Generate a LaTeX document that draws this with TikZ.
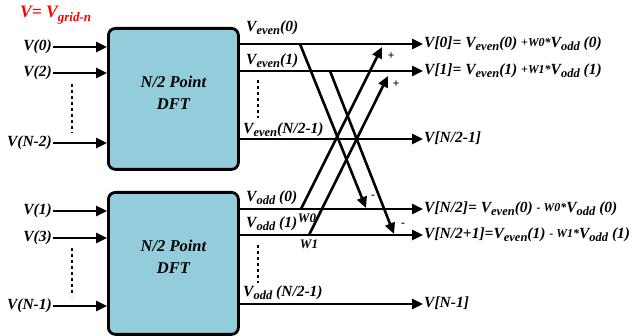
\documentclass[tikz,border=0pt]{standalone}
\usepackage{fontspec}
\setmainfont{Liberation Serif}
\usetikzlibrary{arrows.meta}
\definecolor{dftblue}{HTML}{93CDDC}
\newcommand\vsub[1]{\raisebox{-0.35ex}{\fontsize{12.5}{13}\selectfont #1}}
\newcommand\vsup[1]{\raisebox{0.25ex}{\fontsize{12}{13}\selectfont #1}}
\begin{document}
\begin{tikzpicture}[x=1pt,y=-1pt,
  font=\fontsize{15.5}{17}\selectfont\bfseries\itshape,
  box/.style={draw, line width=2.8pt, rounded corners=7pt, fill=dftblue, minimum width=130pt},
  arr/.style={line width=2.6pt, -{Triangle[length=11pt,width=10pt]}},
  dots/.style={line width=2.8pt, dash pattern=on 3pt off 3pt},
  lbl/.style={inner sep=1pt, text height=11pt, text depth=3pt},
  boxtext/.style={align=center, font=\fontsize{16.5}{22}\selectfont\bfseries\itshape},
  small/.style={font=\fontsize{12}{12}\selectfont\bfseries\itshape, inner sep=0pt}]
\useasboundingbox (0,0) rectangle (634,336);
% title
\node[anchor=base west, red, inner sep=0pt, font=\fontsize{17.5}{18}\selectfont\bfseries\itshape] (title) at (20,18) {V= V\raisebox{-0.45ex}{\fontsize{13}{13}\selectfont grid-n}};
% boxes
\node[box, minimum height=141pt, anchor=north west] (B1) at (107,27) {};
\node[box, minimum height=142pt, anchor=north west] (B2) at (107,191) {};
\node[boxtext] (t1) at ([yshift=6pt]B1.center) {N/2 Point\\DFT};
\node[boxtext] (t2) at ([yshift=7pt]B2.center) {N/2 Point\\DFT};
% inputs
\node[lbl, anchor=east] (i0) at (53,47) {V(0)};
\node[lbl, anchor=east] (i2) at (53,73) {V(2)};
\node[lbl, anchor=east] (iN2) at (53,143) {V(N-2)};
\node[lbl, anchor=east] (i1) at (53,211) {V(1)};
\node[lbl, anchor=east] (i3) at (53,238) {V(3)};
\node[lbl, anchor=east] (iN1) at (53,306) {V(N-1)};
\foreach \n/\b in {i0/B1,i2/B1,iN2/B1,i1/B2,i3/B2,iN1/B2}
  \draw[arr] (\n.east) -- (\b.west |- \n.east);
\coordinate (da1) at (72,84); \coordinate (da2) at (72,133);
\coordinate (db1) at (72,248); \coordinate (db2) at (72,296);
\draw[dots] (da1) -- (da2);
\draw[dots] (db1) -- (db2);
% outputs
\node[lbl, anchor=west] (o0) at (423,44) {V[0]= V\vsub{even}(0) \vsup{+W0*}V\vsub{odd} (0)};
\node[lbl, anchor=west] (o1) at (423,71) {V[1]= V\vsub{even}(1) \vsup{+W1*}V\vsub{odd} (1)};
\node[lbl, anchor=west] (o2) at (423,139) {V[N/2-1]};
\node[lbl, anchor=west] (o3) at (423,209) {V[N/2]= V\vsub{even}(0) \vsup{- W0*}V\vsub{odd} (0)};
\node[lbl, anchor=west] (o4) at (423,235) {V[N/2+1]=V\vsub{even}(1) \vsup{- W1*}V\vsub{odd} (1)};
\node[lbl, anchor=west] (o5) at (423,304) {V[N-1]};
\foreach \n/\b in {o0/B1,o1/B1,o2/B1,o3/B2,o4/B2,o5/B2}
  \draw[arr] (\b.east |- \n.west) -- (\n.west);
% output labels
\node[lbl, anchor=base west] (le0) at (245,32) {V\vsub{even}(0)};
\node[lbl, anchor=base west] (le1) at (245,65) {V\vsub{even}(1)};
\node[lbl, anchor=base west] (le2) at (242,134) {V\vsub{even}(N/2-1)};
\node[lbl, anchor=base west] (lo0) at (245,202) {V\vsub{odd} (0)};
\node[lbl, anchor=base west] (lo1) at (245,228) {V\vsub{odd} (1)};
\node[lbl, anchor=base west] (lo2) at (242,297) {V\vsub{odd} (N/2-1)};
\coordinate (ea1) at (258,80); \coordinate (ea2) at (258,118);
\coordinate (ob1) at (258,245); \coordinate (ob2) at (258,283);
\draw[dots] (ea1) -- (ea2);
\draw[dots] (ob1) -- (ob2);
% butterfly
\coordinate (s0) at (300,44);  \coordinate (t0) at (366,208);
\coordinate (s1) at (330,71);  \coordinate (t1e) at (394,234);
\coordinate (u0) at (301,209); \coordinate (v0) at (382,47);
\coordinate (u1) at (309,235); \coordinate (v1) at (388,76);
\draw[arr] (s0) -- (t0);
\draw[arr] (s1) -- (t1e);
\draw[arr] (u0) -- (v0);
\draw[arr] (u1) -- (v1);
\node[small] (p0) at (391,56) {+};
\node[small] (p1) at (396,84) {+};
\node[small] (m0) at (373,197) {-};
\node[small] (m1) at (403,225) {-};
\node[small, font=\fontsize{13}{13}\selectfont\bfseries\itshape] (w0) at (307,218) {W0};
\node[small, font=\fontsize{13}{13}\selectfont\bfseries\itshape] (w1) at (309,244) {W1};
\end{tikzpicture}
\end{document}
